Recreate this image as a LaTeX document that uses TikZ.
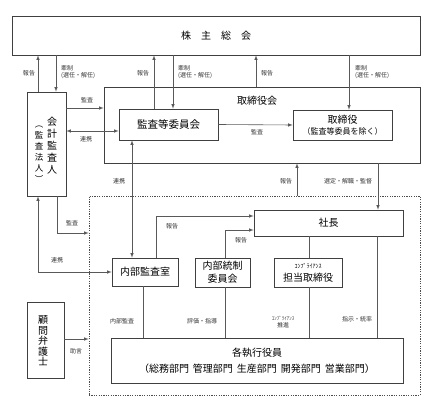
\documentclass[tikz,border=0pt]{standalone}
\usepackage{fontspec}
\setmainfont{Noto Sans CJK JP}
\usepackage{tikz}
\usetikzlibrary{arrows}
\usetikzlibrary{positioning}

\begin{document}
\begin{tikzpicture}[x=1pt,y=-1pt,>=latex,
  box/.style={draw=black!75,line width=0.6pt,inner sep=0pt,font=\fontsize{10}{12}\selectfont},
  lbl/.style={inner sep=0pt,font=\fontsize{6}{7.5}\selectfont,text=black!80},
  con/.style={draw=black!65,line width=0.6pt}]
\useasboundingbox (0,0) rectangle (436,403);
\node[box,minimum width=408pt,minimum height=39pt] (soukai) at (216,35.5) {株　主　総　会};
\node[box,minimum width=39pt,minimum height=104pt] (kaikei) at (46.5,144) {};
\node[inner sep=0pt,align=center,font=\fontsize{10}{12}\selectfont] (kaikeitxt) at (52,145.5) {会\\計\\監\\査\\人};
\node[inner sep=0pt,align=center,font=\fontsize{8.5}{11}\selectfont] (houjin) at (39,154) {︵\\監\\査\\法\\人\\︶};
\node[box,minimum width=316pt,minimum height=76pt] (torikai) at (262,125) {};
\node[inner sep=0pt,font=\fontsize{10}{12}\selectfont,below=9pt of torikai.north,xshift=-5pt] (torikaitxt) {取締役会};
\node[box,minimum width=99pt,minimum height=31pt,font=\fontsize{10.5}{12}\selectfont] (kansai) at (168.5,124.5) {監査等委員会};
\node[box,minimum width=99pt,minimum height=30pt,align=center,font=\fontsize{8}{11}\selectfont] (tori) at (342.5,125) {{\fontsize{10}{11}\selectfont 取締役}\\（監査等委員を除く）};
\node[draw=black!70,dash pattern=on 1.2pt off 1.2pt,line width=0.6pt,inner sep=0pt,minimum width=331pt,minimum height=199pt] (shikko) at (254.5,295.5) {};
\node[box,minimum width=149pt,minimum height=26pt] (shacho) at (328.5,223) {社長};
\node[box,minimum width=66pt,minimum height=28pt] (naibukansa) at (145,272) {内部監査室};
\node[box,minimum width=55pt,minimum height=29pt,align=center,font=\fontsize{10}{13}\selectfont] (naibutosei) at (222.5,272.5) {内部統制\\委員会};
\node[box,minimum width=68pt,minimum height=29pt,align=center,font=\fontsize{10}{13}\selectfont] (compliance) at (308,272.5) {{\fontsize{6}{7}\selectfont ｺﾝﾌﾟﾗｲｱﾝｽ}\\担当取締役};
\node[box,minimum width=292pt,minimum height=45pt,align=center,font=\fontsize{10}{16}\selectfont] (kakushikko) at (257,360.5) {各執行役員\\（総務部門\hspace{4pt}管理部門\hspace{4pt}生産部門\hspace{4pt}開発部門\hspace{4pt}営業部門）};
\node[box,minimum width=37pt,minimum height=76pt] (komon) at (45.5,340) {};
\node[inner sep=0pt,align=center,font=\fontsize{10}{10.5}\selectfont] (komontxt) at (43,341) {顧\\問\\弁\\護\\士};
\draw[con,->] (kaikei.north -| 38,0) -- (soukai.south -| 38,0);
\draw[con,->] (soukai.south -| 56,0) -- (kaikei.north -| 56,0);
\draw[con,->] (kaikei.east |- 0,108) -- (torikai.west |- 0,108);
\draw[con,<->] (kaikei.east |- 0,131) -- (kansai.west |- 0,131);
\draw[con,->] (kansai.north -| 154,0) -- (soukai.south -| 154,0);
\draw[con,->] (soukai.south -| 173,0) -- (kansai.north -| 173,0);
\draw[con,->] (torikai.north -| 256,0) -- (soukai.south -| 256,0);
\draw[con,->] (soukai.south -| 349,0) -- (tori.north -| 349,0);
\draw[con,->] (kansai.east) -- (tori.west);
\draw[con,<->] (kansai.south -| 132,0) -- (naibukansa.north -| 132,0);
\draw[con,->] (shikko.north -| 297,0) -- (torikai.south -| 297,0);
\draw[con,->] (torikai.south -| 378,0) -- (shacho.north -| 378,0);
\draw[con,->] (kaikei.south -| 57,0) |- (shikko.west |- 0,233);
\draw[con,<->] (kaikei.south -| 38,0) |- (naibukansa.west);
\draw[con,->] (naibukansa.north -| 156,0) |- (shacho.west |- 0,216);
\draw[con,->] (naibutosei.north -| 225,0) |- (shacho.west |- 0,230);
\draw[con] (shacho.south -| 309,0) -- (compliance.north -| 309,0);
\draw[con] (shacho.south -| 377,0) -- (kakushikko.north -| 377,0);
\draw[con] (naibukansa.south -| 143,0) -- (kakushikko.north -| 143,0);
\draw[con] (naibutosei.south -| 225,0) -- (kakushikko.north -| 225,0);
\draw[con] (compliance.south -| 309,0) -- (kakushikko.north -| 309,0);
\draw[con,->] (komon.east |- 0,339) -- (shikko.west |- 0,339);
\node[lbl] (l1) at (29,73) {報告};
\node[lbl,anchor=west,align=left] (l2) at (61,72) {牽制\\(選任・解任)};
\node[lbl] (l3) at (143,73) {報告};
\node[lbl,anchor=west,align=left] (l4) at (178,72) {牽制\\(選任・解任)};
\node[lbl] (l5) at (267,73) {報告};
\node[lbl,anchor=west,align=left] (l6) at (355,72) {牽制\\(選任・解任)};
\node[lbl] (l7) at (87,100) {監査};
\node[lbl] (l8) at (86,139) {連携};
\node[lbl] (l9) at (257,132) {監査};
\node[lbl] (l10) at (119,181) {連携};
\node[lbl] (l11) at (286,181) {報告};
\node[lbl] (l12) at (348,181) {選定・解職・監督};
\node[lbl] (l13) at (72,223) {監査};
\node[lbl] (l14) at (57,260) {連携};
\node[lbl] (l15) at (172,226) {報告};
\node[lbl] (l16) at (241,240) {報告};
\node[lbl] (l17) at (122,321) {内部監査};
\node[lbl] (l18) at (202,321) {評価・指導};
\node[lbl,align=center] (l19) at (283,322) {{\fontsize{5}{6}\selectfont ｺﾝﾌﾟﾗｲｱﾝｽ}\\推進};
\node[lbl] (l20) at (357,319) {指示・統率};
\node[lbl] (l21) at (76,351) {助言};
\end{tikzpicture}
\end{document}
